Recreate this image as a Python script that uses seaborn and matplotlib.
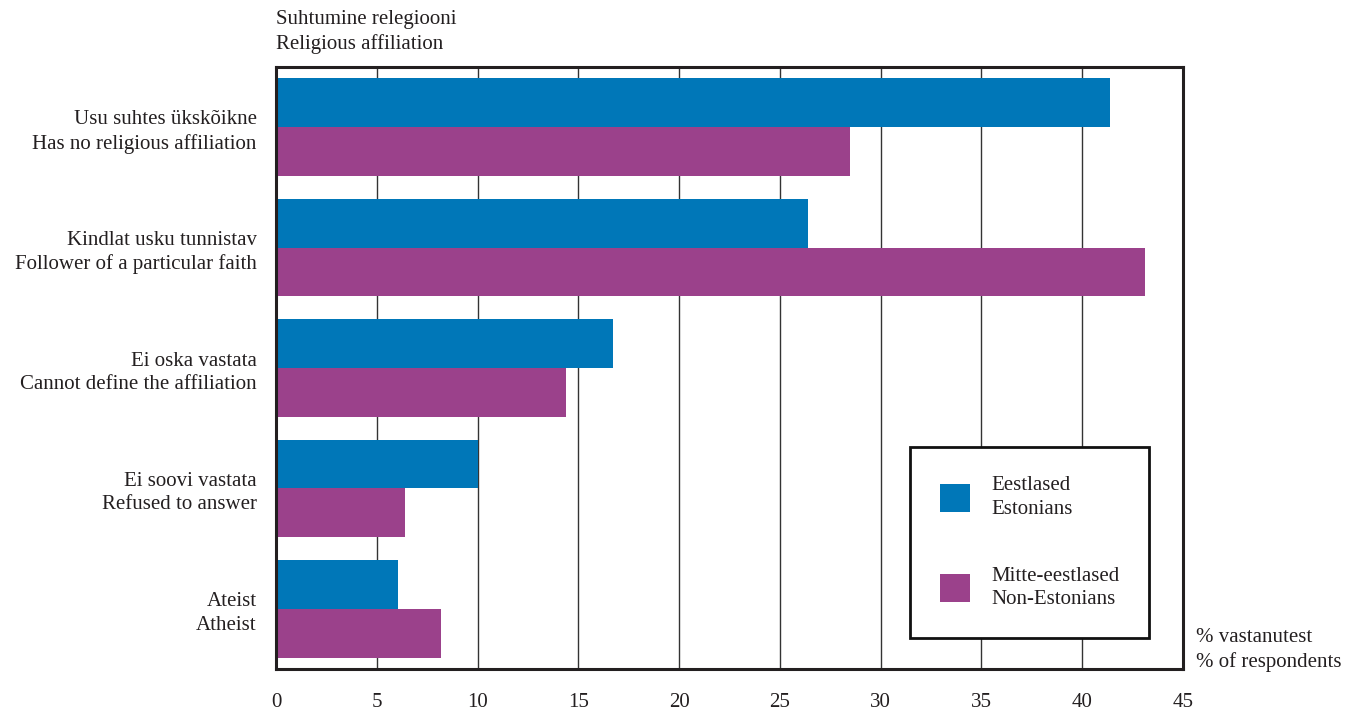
import matplotlib
matplotlib.use("Agg")
import matplotlib.pyplot as plt
import seaborn as sns
import pandas as pd

# category labels (Estonian / English)
categories = [
    "Usu suhtes ükskõikne\nHas no religious affiliation",
    "Kindlat usku tunnistav\nFollower of a particular faith",
    "Ei oska vastata\nCannot define the affiliation",
    "Ei soovi vastata\nRefused to answer",
    "Ateist\nAtheist",
]
groups = ["Eestlased\nEstonians", "Mitte-eestlased\nNon-Estonians"]
estonians = [41.4, 26.4, 16.7, 10.0, 6.05]
non_estonians = [28.5, 43.1, 14.4, 6.4, 8.2]
x_ticks = [0, 5, 10, 15, 20, 25, 30, 35, 40, 45]

colors = ["#0077B8", "#9B418B"]
FS = 15
LS = 1.32

df = pd.DataFrame({
    "category": categories * 2,
    "group": [groups[0]] * len(categories) + [groups[1]] * len(categories),
    "value": estonians + non_estonians,
})

sns.set_style("white")
plt.rcParams["font.family"] = ["Liberation Serif", "DejaVu Serif"]
plt.rcParams["text.color"] = "#231f20"
plt.rcParams["xtick.color"] = "#231f20"
plt.rcParams["ytick.color"] = "#231f20"

fig = plt.figure(figsize=(13.47, 7.09), dpi=100)
ax = fig.add_axes([0.2049, 0.0564, 0.6733, 0.8491])

sns.barplot(
    data=df, y="category", x="value", hue="group", orient="h",
    order=categories, hue_order=groups, palette=colors,
    width=0.81, saturation=1, linewidth=0, ax=ax,
)

ax.set_xlim(0, 45)
ax.set_ylim(4.5, -0.5)
ax.set_xticks(x_ticks)
ax.set_xticklabels([str(t) for t in x_ticks], fontsize=FS)
ax.tick_params(axis="x", length=0, pad=17)
ax.tick_params(axis="y", which="major", length=0, pad=14, labelsize=FS)
for lab in ax.get_yticklabels():
    lab.set_horizontalalignment("right")
    lab.set_multialignment("right")
    lab.set_linespacing(LS)
ax.set_yticks([0.5, 1.5, 2.5, 3.5], minor=True)
ax.tick_params(axis="y", which="minor", direction="in", length=6, width=1, color="#231f20")

ax.set_xlabel("")
ax.set_ylabel("")
ax.grid(axis="x", color="#333333", linewidth=1)
ax.set_axisbelow(True)
for sp in ax.spines.values():
    sp.set_visible(True)
    sp.set_color("#231f20")
    sp.set_linewidth(2.2)

leg = ax.legend(
    loc="upper left", bbox_to_anchor=(0.6995, 0.3686),
    fontsize=FS, frameon=True, fancybox=False, borderpad=1.4,
    handlelength=1.45, handleheight=1.7, handletextpad=1.05,
    labelspacing=2.3, borderaxespad=0,
)
leg.get_frame().set_edgecolor("#111111")
leg.get_frame().set_linewidth(2)
leg.get_frame().set_alpha(1)
for t in leg.get_texts():
    t.set_linespacing(LS)

fig.text(276 / 1347, 1 - 10 / 709, "Suhtumine relegiooni\nReligious affiliation",
         ha="left", va="top", fontsize=FS, linespacing=LS)
fig.text(1196 / 1347, 1 - 628 / 709, "% vastanutest\n% of respondents",
         ha="left", va="top", fontsize=FS, linespacing=LS)

fig.savefig("out.png", dpi=100)
